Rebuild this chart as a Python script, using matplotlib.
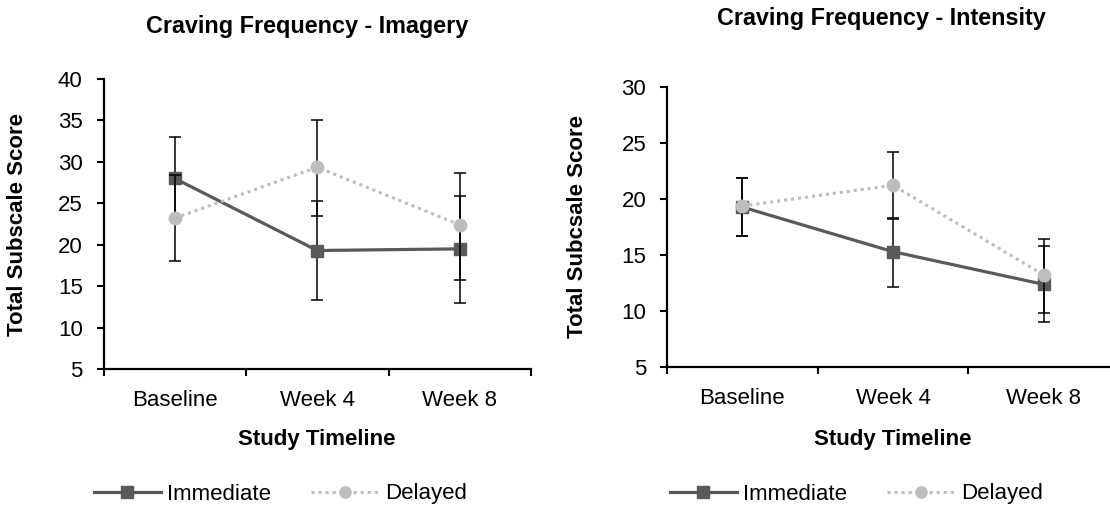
import matplotlib
matplotlib.use('Agg')
import matplotlib.pyplot as plt
from matplotlib.lines import Line2D

plt.rcParams['font.family'] = ['Liberation Sans', 'DejaVu Sans']

timepoints = ['Baseline', 'Week 4', 'Week 8']

# Imagery subscale
imagery_immediate = [28.0, 19.3, 19.5]
imagery_immediate_lo = [5.0, 6.0, 6.5]
imagery_immediate_hi = [5.0, 5.95, 6.35]
imagery_delayed = [23.2, 29.35, 22.4]
imagery_delayed_lo = [5.2, 5.85, 6.6]
imagery_delayed_hi = [5.2, 5.65, 6.3]

# Intensity subscale
intensity_immediate = [19.25, 15.27, 12.35]
intensity_immediate_lo = [2.6, 3.17, 3.38]
intensity_immediate_hi = [2.6, 3.05, 3.45]
intensity_delayed = [19.35, 21.2, 13.2]
intensity_delayed_lo = [2.7, 3.04, 3.43]
intensity_delayed_hi = [2.5, 2.94, 3.23]

IMM_COLOR = '#595959'
DEL_COLOR = '#bdbdbd'
FS = 16


def DoPanel(ax, imm, imm_err, dly, dly_err, ylim, ylabel):
	x = range(len(timepoints))
	ax.errorbar(x, dly, yerr=dly_err, color=DEL_COLOR, linestyle=(0, (1, 1.3)),
		linewidth=2.2, marker='o', markersize=9, ecolor='black', elinewidth=1.1,
		capsize=4.5, capthick=1.1, zorder=3)
	ax.errorbar(x, imm, yerr=imm_err, color=IMM_COLOR, linewidth=2.3,
		marker='s', markersize=9, ecolor='black', elinewidth=1.1,
		capsize=4.5, capthick=1.1, zorder=2)
	ax.set_xlim(-0.5, 2.5)
	ax.set_ylim(*ylim)
	ax.set_yticks(range(ylim[0], ylim[1] + 1, 5))
	ax.set_xticks([-0.5, 0.5, 1.5, 2.5])
	ax.set_xticklabels([])
	ax.set_xticks(list(x), minor=True)
	ax.set_xticklabels(timepoints, minor=True)
	ax.tick_params(axis='x', which='minor', length=0, pad=15, labelsize=FS)
	ax.tick_params(axis='x', which='major', length=5, width=1.5, direction='out')
	ax.tick_params(axis='y', length=5, width=1.5, direction='out', pad=10, labelsize=FS)
	for side in ['top', 'right']:
		ax.spines[side].set_visible(False)
	for side in ['left', 'bottom']:
		ax.spines[side].set_linewidth(1.6)
	ax.set_ylabel(ylabel, fontsize=FS, fontweight='bold')
	ax.set_xlabel('Study Timeline', fontsize=FS, fontweight='bold')


def main():
	fig = plt.figure(figsize=(11.1, 5.05), dpi=100)
	W, H = 1110.0, 505.0

	ax1 = fig.add_axes([103.5 / W, (H - 369) / H, 427.5 / W, 290 / H])
	DoPanel(ax1, imagery_immediate, [imagery_immediate_lo, imagery_immediate_hi],
		imagery_delayed, [imagery_delayed_lo, imagery_delayed_hi],
		(5, 40), 'Total Subscale Score')
	ax1.yaxis.set_label_coords(-0.177, 0.5)
	ax1.xaxis.set_label_coords(0.5, -0.207)

	ax2 = fig.add_axes([667 / W, (H - 366.7) / H, 452 / W, 280 / H])
	DoPanel(ax2, intensity_immediate, [intensity_immediate_lo, intensity_immediate_hi],
		intensity_delayed, [intensity_delayed_lo, intensity_delayed_hi],
		(5, 30), 'Total Subcsale Score')
	ax2.yaxis.set_label_coords(-0.175, 0.5)
	ax2.xaxis.set_label_coords(0.5, -0.222)

	fig.text(307 / W, 1 - 27 / H, 'Craving Frequency - Imagery', ha='center', va='center',
		fontsize=16.8, fontweight='bold')
	fig.text(881 / W, 1 - 19 / H, 'Craving Frequency - Intensity', ha='center', va='center',
		fontsize=16.8, fontweight='bold')

	handles = [
		Line2D([], [], color=IMM_COLOR, linewidth=2.3, marker='s', markersize=8),
		Line2D([], [], color=DEL_COLOR, linewidth=2.2, linestyle=(0, (1, 1.3)), marker='o', markersize=8),
	]
	for x0 in [94, 670]:
		fig.legend(handles, ['Immediate', 'Delayed'], loc='center left',
			bbox_to_anchor=(x0 / W, 1 - 494 / H), ncol=2, frameon=False,
			fontsize=FS, handlelength=3.0, handletextpad=0.3, columnspacing=1.8,
			borderpad=0, borderaxespad=0)

	fig.savefig('out.png', dpi=100)


if __name__ == '__main__':
	main()
